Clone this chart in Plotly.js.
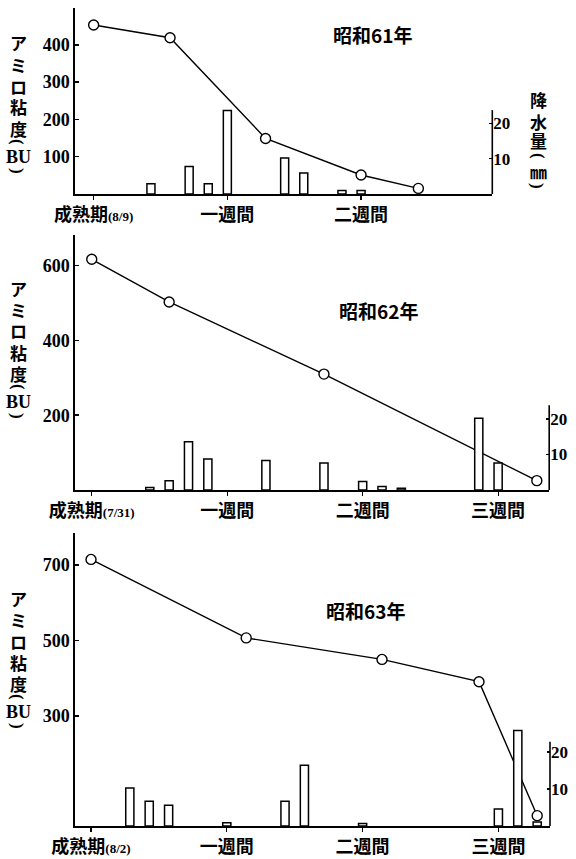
<!DOCTYPE html>
<html>
<head>
<meta charset="utf-8">
<script src="https://cdn.plot.ly/plotly-3.0.1.min.js"></script>
<style>html,body{margin:0;padding:0;background:#fff;}</style>
</head>
<body>
<div id="chart" style="width:576px;height:859px;"></div>
<script>
// ---------- DATA ----------
// 昭和61年
const days61 = [0, 4, 9, 14, 17];
const amylo61 = [453, 419, 149, 51, 15];
const rainDays61 = [3, 5, 6, 7, 10, 11, 13, 14];
const rain61 = [2.9, 7.8, 2.9, 23.6, 10.2, 5.9, 1.0, 1.0];
// 昭和62年
const days62 = [0, 4, 12, 23];
const amylo62 = [617, 503, 310, 25];
const rainDays62 = [3, 4, 5, 6, 9, 12, 14, 15, 16, 20, 21];
const rain62 = [0.7, 2.6, 13.6, 8.7, 8.3, 7.6, 2.4, 1.0, 0.5, 20.2, 7.6];
// 昭和63年
const days63 = [0, 8, 15, 20, 23];
const amylo63 = [715, 507, 450, 391, 36];
const rainDays63 = [2, 3, 4, 7, 10, 11, 14, 21, 22, 23];
const rain63 = [10.3, 6.7, 5.6, 0.9, 6.7, 16.4, 0.7, 4.6, 25.8, 1.1];

const tickDays = [0, 7, 14, 21];
const weekLabels = ['一週間', '二週間', '三週間'];
const startDates = ['(8/9)', '(7/31)', '(8/2)'];
const panelTitles = ['昭和61年', '昭和62年', '昭和63年'];
const leftTicks = [[100, 200, 300, 400], [200, 400, 600], [300, 500, 700]];
const rightTicks = [10, 20];
const yTitleChars = ['ア', 'ミ', 'ロ', '粘', '度', '(', 'BU', ')'];
const rainTitleChars = ['降', '水', '量', '(', '㎜', ')'];

// ---------- LAYOUT HELPERS ----------
const W = 576, H = 859;
const fx = px => px / W;
const fy = py => 1 - py / H;
const CJK = 'Noto Sans CJK JP';
const SERIF = "'Liberation Serif', 'Times New Roman', serif";

function tickText(i, nWeeks) {
  const t = ['成熟期<span style="font-size:13px;font-family:Liberation Serif;font-weight:bold">' + startDates[i] + '</span>'];
  for (let k = 0; k < nWeeks; k++) t.push(weekLabels[k]);
  return t;
}

const panels = [
  {days: days61, amylo: amylo61, rd: rainDays61, rain: rain61, nW: 2,
   xl: 75.3, xr: 492.3, xr0: -0.96, xr1: 20.87,
   base: 194, top: 8, yMin: 0, yMax: 498.7, pxmm: 3.54, rMax: 23.7,
   title: [372, 34], yt: 43},
  {days: days62, amylo: amylo62, rd: rainDays62, rain: rain62, nW: 3,
   xl: 75.3, xr: 549.2, xr0: -0.85, xr1: 23.64,
   base: 490, top: 235, yMin: 0, yMax: 682, pxmm: 3.55, rMax: 23.9,
   title: [378, 310], yt: 288},
  {days: days63, amylo: amylo63, rd: rainDays63, rain: rain63, nW: 3,
   xl: 75.3, xr: 550, xr0: -0.81, xr1: 23.66,
   base: 826, top: 533, yMin: 8.6, yMax: 785, pxmm: 3.7, rMax: 22.8,
   title: [365, 610], yt: 598}
];

const traces = [];
const layout = {
  width: W, height: H,
  margin: {l: 0, r: 0, t: 0, b: 0},
  paper_bgcolor: '#fff', plot_bgcolor: 'rgba(0,0,0,0)',
  showlegend: false,
  annotations: [], shapes: []
};

function vChar(c, x, y, size) {
  const isParen = c === '(' || c === ')';
  const isLatin = c === 'BU';
  return {
    xref: 'paper', yref: 'paper', x: fx(x), y: fy(y),
    xanchor: 'center', yanchor: 'middle', showarrow: false,
    textangle: isParen ? 90 : 0, borderpad: 0,
    text: c,
    font: {family: (isParen || isLatin) ? SERIF : CJK, size: isLatin ? 18 : size, weight: 700, color: '#000'}
  };
}

panels.forEach((p, i) => {
  const xa = i === 0 ? 'x' : 'x' + (i + 1);
  const yl = i === 0 ? 'y' : 'y' + (2 * i + 1);
  const yr = 'y' + (2 * i + 2);
  const xKey = i === 0 ? 'xaxis' : 'xaxis' + (i + 1);
  const ylKey = i === 0 ? 'yaxis' : 'yaxis' + (2 * i + 1);
  const yrKey = 'yaxis' + (2 * i + 2);

  traces.push({
    type: 'scatter', mode: 'lines+markers', x: p.days, y: p.amylo,
    xaxis: xa, yaxis: yl, cliponaxis: false,
    line: {color: '#000', width: 1.4},
    marker: {symbol: 'circle', size: 10, color: '#fff', line: {color: '#000', width: 1.4}}
  });
  traces.push({
    type: 'bar', x: p.rd, y: p.rain, xaxis: xa, yaxis: yr,
    width: 0.42,
    marker: {color: '#fff', line: {color: '#000', width: 1.5}}
  });

  layout[xKey] = {
    domain: [fx(p.xl), fx(p.xr)], range: [p.xr0, p.xr1], anchor: yl,
    showline: true, linecolor: '#000', linewidth: 1.6,
    ticks: 'outside', ticklen: 4, tickwidth: 1.2, tickcolor: '#000',
    tickmode: 'array', tickvals: tickDays.slice(0, p.nW + 1), ticktext: tickText(i, p.nW),
    tickfont: {family: CJK, size: 18, weight: 700, color: '#000'},
    showgrid: false, zeroline: false, fixedrange: true
  };
  layout[ylKey] = {
    domain: [fy(p.base), fy(p.top)], range: [p.yMin, p.yMax], anchor: xa,
    showline: true, linecolor: '#000', linewidth: 2,
    ticks: 'inside', ticklen: 4, tickwidth: 1.5, tickcolor: '#000',
    tickmode: 'array', tickvals: leftTicks[i],
    tickfont: {family: SERIF, size: 18, weight: 700, color: '#000'},
    showgrid: false, zeroline: false, fixedrange: true
  };
  layout[yrKey] = {
    domain: [fy(p.base), fy(p.top)], range: [0, (p.base - p.top) / p.pxmm], anchor: xa, side: 'right',
    showline: false,
    ticks: 'inside', ticklen: 3, tickwidth: 1.3, tickcolor: '#000',
    tickmode: 'array', tickvals: rightTicks,
    tickfont: {family: SERIF, size: 17, weight: 700, color: '#000'},
    showgrid: false, zeroline: false, fixedrange: true
  };
  // right (rainfall) axis line, only up to its top value
  layout.shapes.push({
    type: 'line', xref: xa + ' domain', x0: 1, x1: 1, yref: yr, y0: 0, y1: p.rMax,
    line: {color: '#000', width: 1.6}
  });

  // panel title
  layout.annotations.push({
    xref: 'paper', yref: 'paper', x: fx(p.title[0]), y: fy(p.title[1]),
    xanchor: 'center', yanchor: 'middle', showarrow: false,
    text: panelTitles[i], font: {family: CJK, size: 19, weight: 700, color: '#000'}
  });
  // vertical y title
  const offs = [0, 21.5, 43, 64, 85, 99, 114, 128];
  yTitleChars.forEach((c, k) => layout.annotations.push(vChar(c, 18, p.yt + offs[k], 17)));
});

// rainfall title (panel 1 only)
const rOffs = [0, 21, 40, 56, 71, 86];
rainTitleChars.forEach((c, k) => layout.annotations.push(vChar(c, 538, 100 + rOffs[k], 17)));

Plotly.newPlot('chart', traces, layout, {staticPlot: true, displayModeBar: false});
</script>
</body>
</html>
